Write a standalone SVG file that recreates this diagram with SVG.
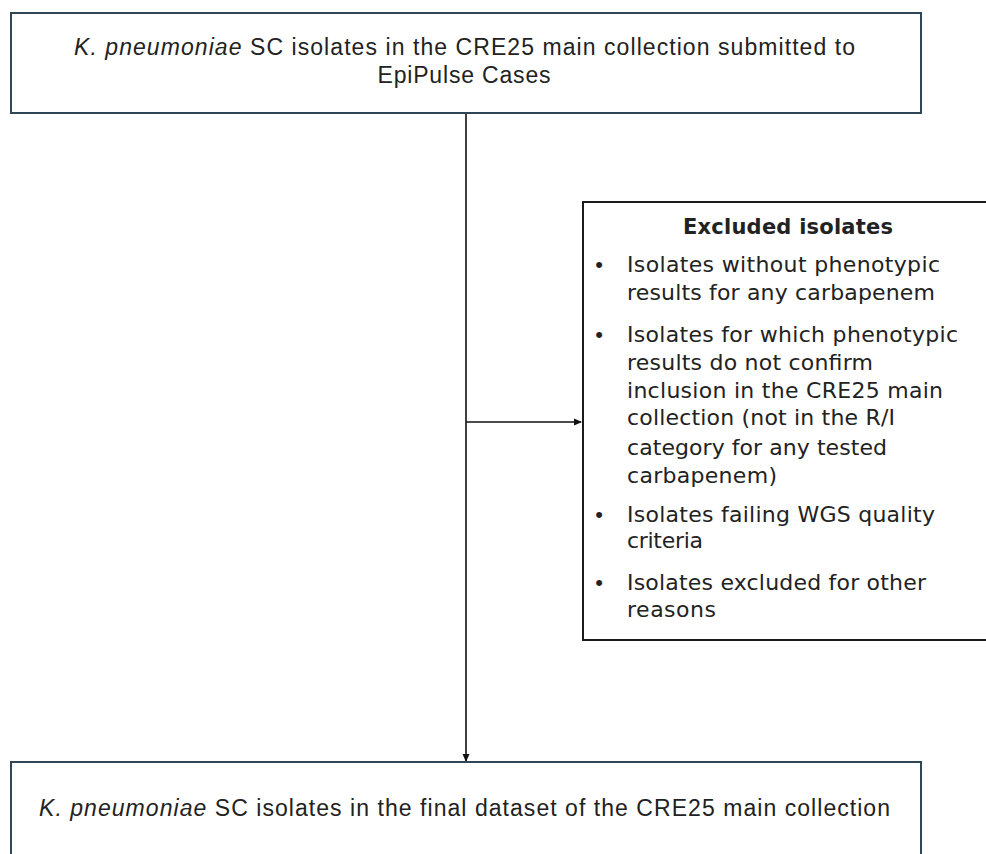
<svg xmlns="http://www.w3.org/2000/svg" width="986" height="854" viewBox="0 0 986 854">
<style>
.box{fill:#fff;stroke:#2f4656;stroke-width:2}
.exbox{fill:#fff;stroke:#1a1a1a;stroke-width:2}
.main{font-family:"Liberation Sans",Arial,sans-serif;font-size:23px;fill:#222}
.ex{font-family:"DejaVu Sans",sans-serif;font-size:22px;fill:#222}
.exb{font-family:"DejaVu Sans",sans-serif;font-size:21px;font-weight:bold;fill:#222}
.bul{font-family:"Liberation Sans",Arial,sans-serif;font-size:22px;fill:#222}
.conn{stroke:#111;stroke-width:1.6;fill:none}
</style>
<defs>
<marker id="arr" markerWidth="8" markerHeight="8" refX="7" refY="4" orient="auto" markerUnits="userSpaceOnUse">
<path d="M0,0.5 L8,4 L0,7.5 Z" fill="#111"/>
</marker>
</defs>
<rect width="986" height="854" fill="#fff"/>
<g id="connectors">
<line class="conn" x1="466" y1="113" x2="466" y2="761" marker-end="url(#arr)"/>
<line class="conn" x1="466" y1="422" x2="581" y2="422" marker-end="url(#arr)"/>
</g>
<g id="submitted">
<rect class="box" x="11" y="13" width="910" height="100"/>
<text class="main" x="74" y="55" textLength="781"><tspan font-style="italic">K. pneumoniae</tspan> SC isolates in the CRE25 main collection submitted to</text>
<text class="main" x="464" y="83" text-anchor="middle" textLength="173">EpiPulse Cases</text>
</g>
<g id="excluded">
<rect class="exbox" x="583" y="202" width="420" height="438"/>
<text class="exb" x="788" y="234" text-anchor="middle" textLength="210">Excluded isolates</text>
<text class="bul" x="599" y="272" text-anchor="middle">•</text>
<text class="ex" x="627" y="272" textLength="313">Isolates without phenotypic</text>
<text class="ex" x="627" y="300" textLength="308">results for any carbapenem</text>
<text class="bul" x="599" y="342" text-anchor="middle">•</text>
<text class="ex" x="627" y="342" textLength="331">Isolates for which phenotypic</text>
<text class="ex" x="627" y="370" textLength="246">results do not confirm</text>
<text class="ex" x="627" y="398" textLength="316">inclusion in the CRE25 main</text>
<text class="ex" x="627" y="425" textLength="268">collection (not in the R/I</text>
<text class="ex" x="627" y="455" textLength="260">category for any tested</text>
<text class="ex" x="627" y="483" textLength="150">carbapenem)</text>
<text class="bul" x="599" y="522" text-anchor="middle">•</text>
<text class="ex" x="627" y="522" textLength="308">Isolates failing WGS quality</text>
<text class="ex" x="627" y="548" textLength="76">criteria</text>
<text class="bul" x="599" y="590" text-anchor="middle">•</text>
<text class="ex" x="627" y="590" textLength="299">Isolates excluded for other</text>
<text class="ex" x="627" y="617" textLength="89">reasons</text>
</g>
<g id="final">
<rect class="box" x="11" y="762" width="910" height="110"/>
<text class="main" x="39" y="816" textLength="851"><tspan font-style="italic">K. pneumoniae</tspan> SC isolates in the final dataset of the CRE25 main collection</text>
</g>
</svg>
